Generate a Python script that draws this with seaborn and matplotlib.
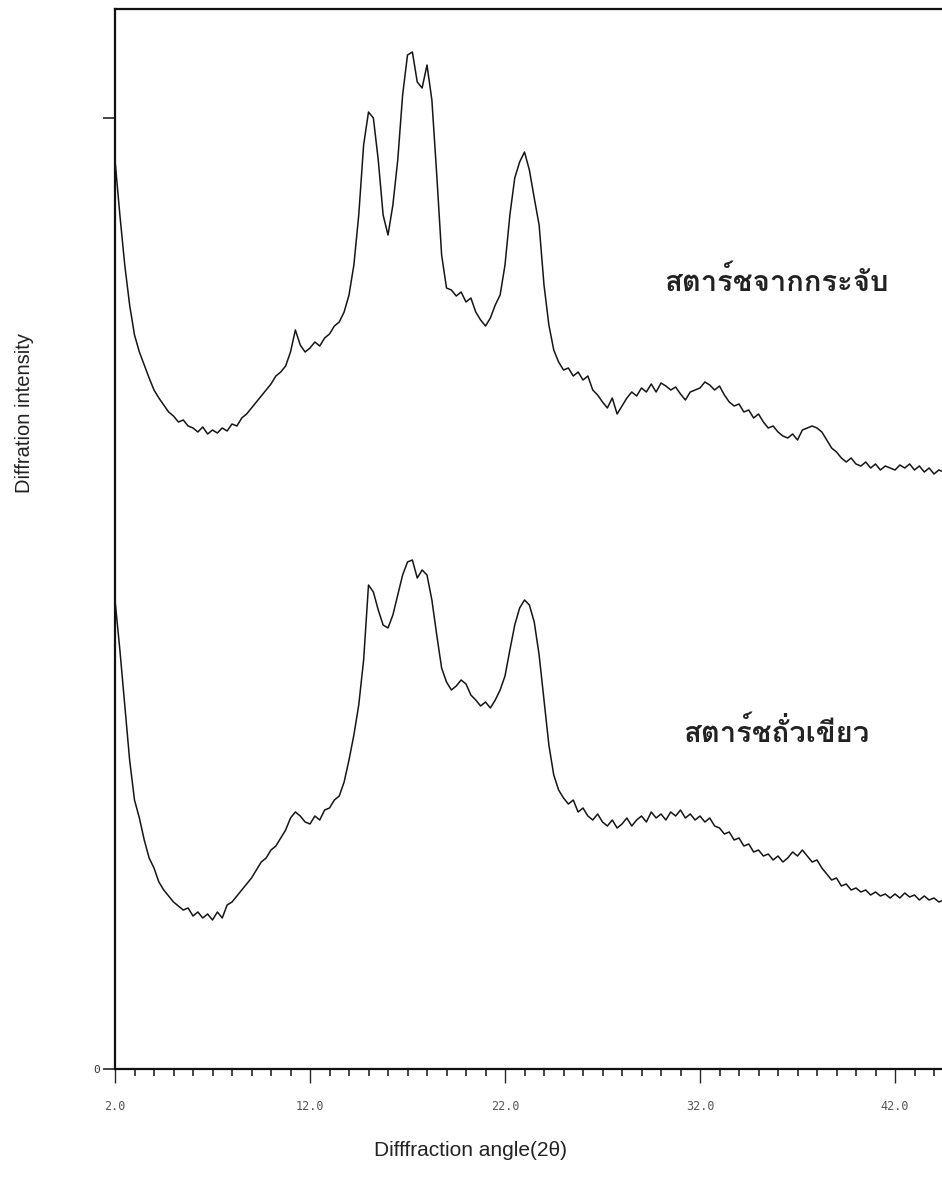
import numpy as np
import pandas as pd
import matplotlib
matplotlib.use("Agg")
import matplotlib.pyplot as plt
from matplotlib import font_manager as fm
from matplotlib.ft2font import FT2Font
import seaborn as sns

# 2-theta step scan, 0.25 deg steps from 2.0 to 44.5
TWO_THETA = np.arange(2.0, 44.51, 0.25)

# intensities (arbitrary units, 0 = x axis)
WATER_CHESTNUT = [
    909, 854, 804, 764,  734, 717, 704, 691,  679, 671, 664, 657,   # 2-4
    653, 647, 649, 643,  641, 637, 642, 635,  639, 636, 641, 638,   # 5-7
    645, 643, 651, 655,  661, 667, 673, 679,  685, 693, 697, 703,   # 8-10
    717, 739, 724, 717,  721, 727, 723, 731,  735, 743, 747, 757,   # 11-13
    774, 804, 854, 924,  957, 951, 909, 854,  834, 864, 909, 974,   # 14-16
    1014, 1017, 987, 981,  1004, 969, 894, 814,  781, 779, 773, 777,  # 17-19
    767, 771, 757, 749,  743, 751, 764, 774,  804, 854, 891, 907,   # 20-22
    917, 899, 871, 844,  784, 744, 719, 707,  699, 701, 693, 697,   # 23-25
    689, 693, 679, 674,  667, 661, 671, 655,  663, 671, 677, 673,   # 26-28
    681, 677, 685, 677,  686, 683, 679, 682,  675, 669, 677, 679,   # 29-31
    681, 687, 684, 679,  683, 674, 667, 663,  665, 657, 659, 651,   # 32-34
    655, 647, 641, 643,  637, 633, 631, 635,  629, 639, 641, 643,   # 35-37
    641, 637, 629, 621,  617, 611, 607, 611,  605, 603, 607, 601,   # 38-40
    605, 599, 603, 601,  599, 604, 601, 605,  599, 603, 597, 601,   # 41-43
    595, 599, 597,                                                 # 44-44.5
]
MUNG_BEAN = [
    469, 419, 364, 309,  269, 251, 229, 211,  201, 187, 179, 173,   # 2-4
    167, 163, 159, 161,  153, 157, 151, 155,  149, 157, 151, 164,   # 5-7
    167, 173, 179, 185,  191, 199, 207, 211,  219, 223, 231, 239,   # 8-10
    251, 257, 253, 247,  245, 253, 249, 259,  261, 269, 273, 287,   # 11-13
    309, 334, 364, 409,  484, 477, 459, 444,  441, 454, 474, 494,   # 14-16
    507, 509, 491, 499,  494, 469, 434, 401,  387, 379, 383, 389,   # 17-19
    385, 374, 369, 363,  367, 361, 369, 379,  393, 419, 444, 461,   # 20-22
    469, 464, 447, 414,  369, 324, 294, 279,  271, 265, 269, 257,   # 23-25
    261, 253, 249, 255,  247, 243, 249, 241,  245, 251, 243, 249,   # 26-28
    253, 247, 257, 251,  255, 249, 257, 253,  259, 251, 255, 249,   # 29-31
    253, 247, 251, 243,  241, 235, 237, 229,  231, 223, 225, 217,   # 32-34
    219, 213, 215, 209,  213, 207, 211, 217,  213, 219, 213, 207,   # 35-37
    209, 201, 195, 189,  191, 183, 185, 179,  181, 177, 179, 174,   # 38-40
    177, 173, 175, 171,  175, 171, 176, 172,  174, 169, 173, 169,   # 41-43
    171, 167, 169,                                                 # 44-44.5
]
assert len(WATER_CHESTNUT) == len(TWO_THETA) == len(MUNG_BEAN)

SAMPLES = ["สตาร์ชจากกระจับ", "สตาร์ชถั่วเขียว"]
LABEL_POS = [(35.9, 787), (35.9, 336)]
XTICKS = [2, 12, 22, 32, 42]
XTICK_LABELS = ["2.0", "12.0", "22.0", "32.0", "42.0"]


def thai_font():
    """First installed font that actually has Thai glyphs."""
    for f in fm.fontManager.ttflist:
        try:
            if 0x0E2A in FT2Font(f.fname).get_charmap():
                return f.name
        except Exception:
            continue
    return "DejaVu Sans"


sns.set_style("white")
plt.rcParams["font.family"] = ["Liberation Sans", "DejaVu Sans"]

df = pd.concat([
    pd.DataFrame({"two_theta": TWO_THETA, "intensity": WATER_CHESTNUT, "sample": SAMPLES[0]}),
    pd.DataFrame({"two_theta": TWO_THETA, "intensity": MUNG_BEAN, "sample": SAMPLES[1]}),
])

fig = plt.figure(figsize=(9.42, 11.81), dpi=100)
ax = fig.add_axes([115 / 942, 112 / 1181, 827 / 942, 1060 / 1181])

sns.lineplot(data=df, x="two_theta", y="intensity", hue="sample",
             palette=["#151515", "#151515"], estimator=None, legend=False,
             linewidth=1.1, ax=ax)

ax.set_xlim(2.0, 2.0 + 827 / 19.5)
ax.set_ylim(0, 1060)

for side in ("left", "bottom", "top"):
    ax.spines[side].set_linewidth(1.6)
    ax.spines[side].set_color("#111111")
ax.spines["right"].set_visible(False)

ax.set_xticks(XTICKS)
ax.set_xticklabels(XTICK_LABELS, family="DejaVu Sans Mono", fontsize=8.5,
                   color="#555555")
ax.set_xticks(np.arange(3, 45, 1), minor=True)
ax.tick_params(axis="x", which="major", direction="out", length=10,
               width=1.0, pad=12, bottom=True)
ax.tick_params(axis="x", which="minor", direction="out", length=5,
               width=1.2, bottom=True)
ax.set_yticks([0, 951])
ax.set_yticklabels(["0", ""], family="DejaVu Sans Mono", fontsize=8,
                   color="#333333")
ax.tick_params(axis="y", direction="out", length=9, width=1.2, pad=2, left=True)
ax.set_xlabel("")
ax.set_ylabel("")

tfont = thai_font()
for (x, y), name in zip(LABEL_POS, SAMPLES):
    ax.text(x, y, name, ha="center", va="center", fontsize=21,
            family=[tfont, "DejaVu Sans"], fontweight="bold", color="#222222")

fig.text(0.5, 1 - 1150 / 1181, "Difffraction angle(2θ)", ha="center",
         va="center", fontsize=15, color="#222222")
fig.text(25 / 942, 1 - 413 / 1181, "Diffration intensity", ha="center",
         va="center", rotation=90, fontsize=14.5, color="#222222")

fig.savefig("out.png", dpi=100)
